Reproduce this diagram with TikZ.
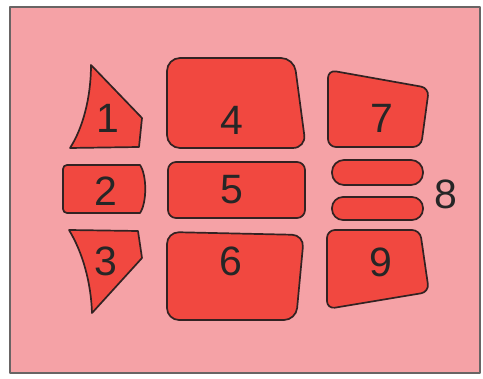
\documentclass[tikz,border=0pt]{standalone}
\usepackage{fontspec}
\setmainfont{Liberation Sans}
\usepackage{xcolor}
\usetikzlibrary{arrows.meta}
\definecolor{panel}{RGB}{245,162,166}
\definecolor{cell}{RGB}{241,72,64}
\definecolor{rim}{RGB}{50,34,34}
\definecolor{frame}{RGB}{105,100,100}
\tikzset{
  every picture/.style={line join=round, line cap=round, >=Stealth},
  piece/.style={fill=cell, draw=rim, line width=1.7pt},
  num/.style={font=\fontsize{41}{41}\selectfont, inner sep=0pt, text=black!85},
}

\begin{document}
\begin{tikzpicture}[x=1pt,y=-1pt]
\useasboundingbox(0,0)rectangle(483,379);
\fill[white](0,0)rectangle(483,379);
\draw[fill=panel,draw=frame,line width=1.4pt](10,7)rectangle(480,373);
% left column
\draw[piece](91,65)--(142,118)--(139,147)--(70,148)..controls(83,128)and(91,97)..cycle;
\draw[piece](140,213)..controls(147,203)and(147,175)..(140,165)[rounded corners=4pt]--(63,165)--(63,213)[sharp corners]--cycle;
\draw[piece](69,230)--(138,231)--(142,258)--(92,313)..controls(91,283)and(83,253)..cycle;
% middle column
\draw[piece,rounded corners=13pt](167,58)--(294,58)--(306,148)--(167,148)--cycle;
\draw[piece,rounded corners=8pt](168,162)rectangle(305,218);
\draw[piece,rounded corners=12pt](167,232)--(304,235)--(296,320)--(167,320)--cycle;
% right column
\draw[piece,rounded corners=8pt](328,70)--(429,88)--(421,147)--(328,147)--cycle;
\draw[piece,rounded corners=12pt](332,160)rectangle(423,185);
\draw[piece,rounded corners=11pt](332,197)rectangle(423,220);
\draw[piece,rounded corners=8pt](327,230)--(420,230)--(429,292)--(327,309)--cycle;
% labels
\draw(108,118)node(n1)[num]{1}
(106,191)node(n2)[num]{2}
(106,261)node(n3)[num]{3}
(232,120)node(n4)[num]{4}
(232,190)node(n5)[num]{5}
(231,261)node(n6)[num]{6}
(382,118)node(n7)[num]{7}
(446,194)node(n8)[num]{8}
(381,262)node(n9)[num]{9};
\end{tikzpicture}
\end{document}
